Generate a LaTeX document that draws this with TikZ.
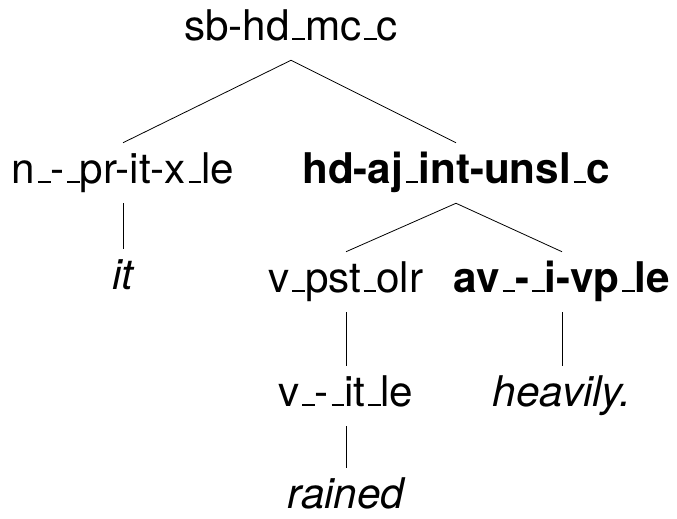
\documentclass[tikz,border=0pt]{standalone}
\usepackage{fontspec}
\setmainfont{TeX Gyre Heros}
\newcommand{\us}{\leavevmode\kern.06em\vbox{\hrule width.3em height 1.5pt}}

\begin{document}
\begin{tikzpicture}[
    x=0.75pt, y=-0.75pt,
    edge/.style={line width=0.6pt},
    cat/.style={anchor=base, inner xsep=0pt, inner ysep=8pt,
        text height=22pt, text depth=7pt,
        font=\fontsize{31.7}{38}\selectfont},
    head/.style={cat, font=\fontsize{31.7}{38}\selectfont\bfseries},
    word/.style={cat, font=\fontsize{31.7}{38}\selectfont\itshape}
]
    \useasboundingbox (0,0) rectangle (677,518);

    % Nodes ------------------------------------------------------

    \node[cat] (root) at (291,40) {sb-hd\us mc\us c};

    \node[cat] (npr) at (123,183) {n\us-\us pr-it-x\us le};
    \node[head] (hdaj) at (456,183) {hd-aj\us int-unsl\us c};

    \node[word] (it) at (123,289) {it};

    \node[cat] (vpst) at (346,292) {v\us pst\us olr};
    \node[head] (avi) at (562,292) {av\us-\us i-vp\us le};

    \node[cat] (vit) at (346,406) {v\us-\us it\us le};
    \node[word] (heavily) at (562,406) {heavily.};

    \node[word] (rained) at (346,508) {rained};

    % Edges ------------------------------------------------------

    \draw[edge] (npr.north) -- (root.south) -- (hdaj.north);
    \draw[edge] (vpst.north) -- (hdaj.south) -- (avi.north);
    \draw[edge] (npr.south) -- (it.north);
    \draw[edge] (vpst.south) -- (vit.north);
    \draw[edge] (avi.south) -- (heavily.north);
    \draw[edge] (vit.south) -- (rained.north);

\end{tikzpicture}
\end{document}
